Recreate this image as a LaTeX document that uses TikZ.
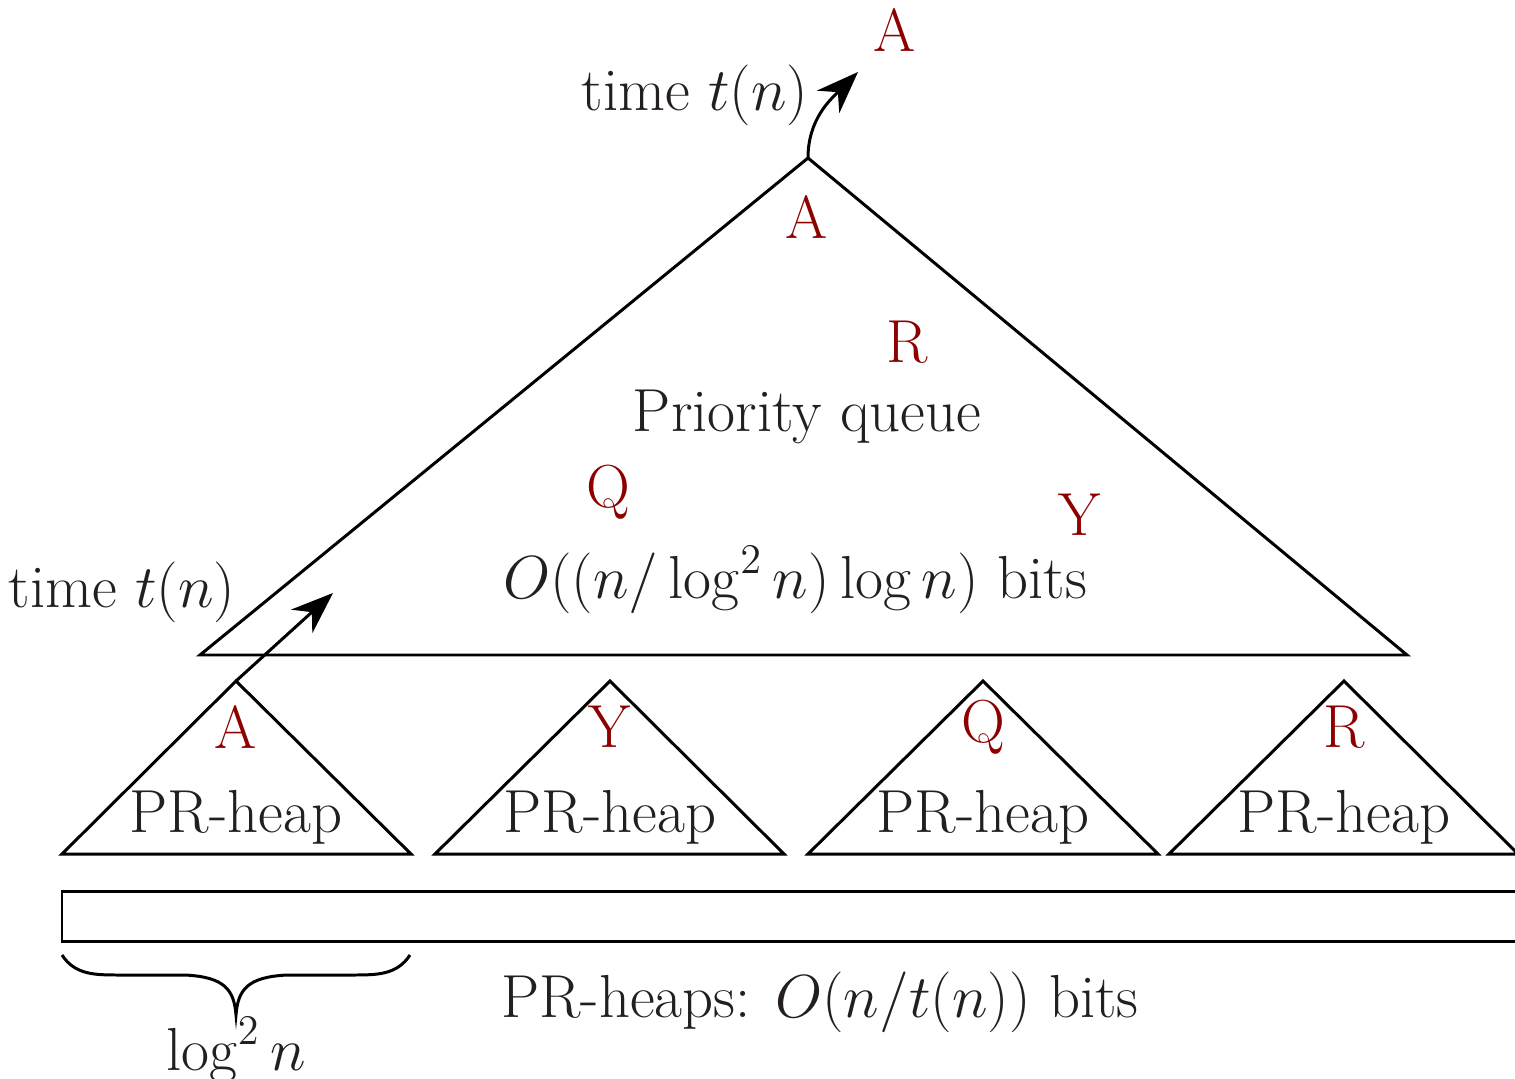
\documentclass[tikz,border=0pt]{standalone}
\usepackage{amsmath}
\usetikzlibrary{arrows.meta}
\definecolor{keyred}{RGB}{140,0,0}
\definecolor{ink}{RGB}{35,31,32}
\begin{document}
\begin{tikzpicture}[x=0.01cm,y=-0.01cm,
  every node/.style={font=\fontsize{17.28}{21}\selectfont, text=ink, inner sep=0pt},
  key/.style={text=keyred},
  edge/.style={line width=0.85pt, line join=miter},
  arr/.style={line width=0.85pt, -{Stealth[length=12pt,width=9pt]}}]
\useasboundingbox (0,0) rectangle (1515,1079);

% priority queue triangle
\coordinate (top) at (808,158);
\coordinate (pqL) at (200,655);
\coordinate (pqR) at (1407,655);
\draw[edge] (pqL) -- (top) -- (pqR) -- cycle;

% PR-heap triangles
\foreach \l/\m/\r/\name in {62/236/411/h1, 435/610/784/h2, 808/983/1158/h3, 1169/1344/1518/h4}{
  \coordinate (\name) at (\m,681);
  \draw[edge] (\l,854) -- (\name) -- (\r,854) -- cycle;
  \node (\name lbl) at (\m,817) {PR-heap};
}

% PR-heap storage strip
\draw[edge] (62,891) rectangle (1530,941);

% brace under the first block
\draw[line width=0.85pt] (62,955) .. controls (75,975) and (95,975) .. (120,975)
  -- (185,975) .. controls (225,977) and (234,990) .. (236,1015)
  .. controls (238,990) and (247,977) .. (287,975)
  -- (352,975) .. controls (377,975) and (397,975) .. (410,955);
\node (logn) at (236,1050) {$\log^2 n$};

% arrows
\coordinate (up1) at (333,593);
\coordinate (up2) at (858,72);
\draw[arr] (h1) -- (up1);
\draw[arr] (top) to[out=90,in=225] (up2);

% labels
\node (t1) at (122,592) {time $t(n)$};
\node (t2) at (695,95) {time $t(n)$};
\node[key] (kA0) at (895,30) {A};
\node[key] (kA1) at (807,217) {A};
\node[key] (kR) at (907,342) {R};
\node (pq) at (807,417) {Priority queue};
\node[key] (kQ) at (608,492) {Q};
\node[key] (kY) at (1080,515) {Y};
\node (bits) at (795,580) {$O((n/\log^2 n)\log n)$ bits};

\node[key] (a1) at (236,727) {A};
\node[key] (a2) at (610,727) {Y};
\node[key] (a3) at (983,727) {Q};
\node[key] (a4) at (1344,727) {R};

\node (heaps) at (820,1002) {PR-heaps: $O(n/t(n))$ bits};
\end{tikzpicture}
\end{document}
